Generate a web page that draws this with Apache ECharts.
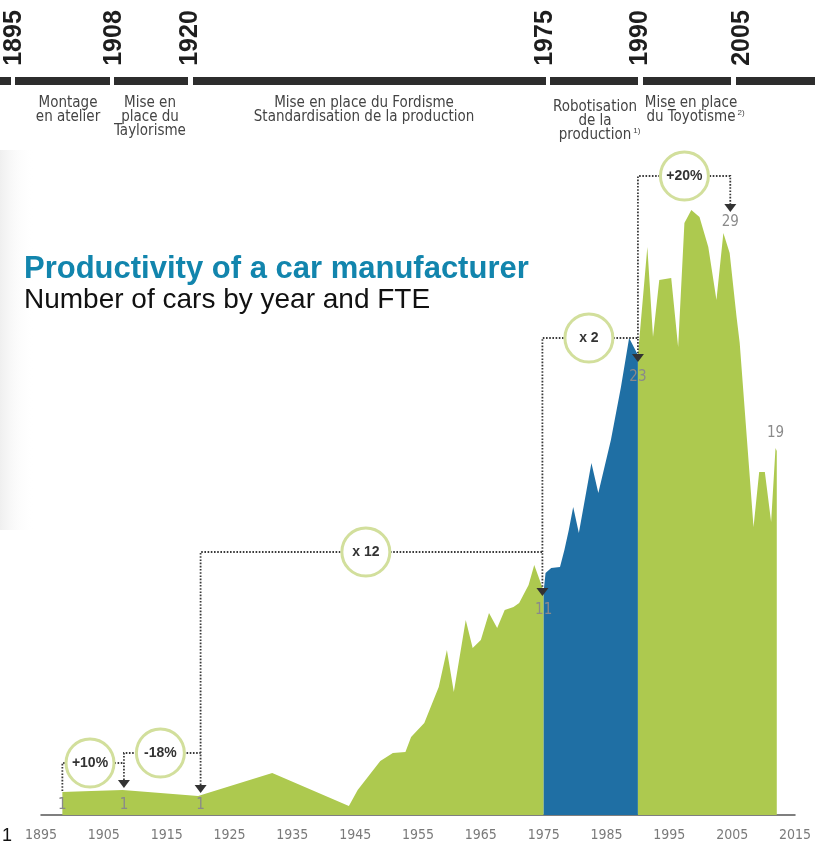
<!DOCTYPE html>
<html><head><meta charset="utf-8">
<script src="https://cdn.jsdelivr.net/npm/echarts@6/dist/echarts.min.js"></script>
<style>html,body{margin:0;padding:0;background:#fff}#c{width:815px;height:847px}</style>
</head><body><div id="c"></div>
<script>
// ---------- data ----------
const years = [1898.4,1903,1908,1914,1920,1931.8,1944,1945.4,1949,1951,1953,1953.9,1956,1958.3,1959.6,1960.7,1962.6,1963.7,1965,1966.3,1967.6,1968.8,1970.2,1971.1,1972.6,1973.5,1975,
  1975.3,1976.2,1977.6,1978.3,1979,1979.7,1980.6,1982.6,1983.7,1985.7,1987.3,1988.6,1990,
  1990.2,1991.5,1992.4,1993.4,1995.3,1996.4,1997.4,1998.5,1999.8,2001.2,2002.5,2003.6,2004.6,2005.7,2006.2,2008.4,2009.3,2010.2,2011.2,2011.9,2012.1];
const values = [1.15,1.2,1.25,1.1,0.95,2.1,0.45,1.25,2.7,3.1,3.15,3.9,4.6,6.4,8.25,6.15,9.75,8.35,8.75,10.1,9.35,10.25,10.4,10.6,11.5,12.5,11.2,
  12.1,12.35,12.4,13.25,14.25,15.4,14.1,17.6,16.1,18.75,21.4,23.85,23.0,
  23.7,28.4,23.9,26.75,26.85,23.4,29.6,30.25,29.9,28.4,25.75,29.1,28.1,24.9,23.6,14.4,17.15,17.15,14.65,18.35,18.2];
const eraBreaks = [1975, 1990];           // robotisation era drawn in blue
const axisMin = 1895, axisMax = 2015, axisStep = 10;

const timelineYears = ['1895','1908','1920','1975','1990','2005'];
const phaseLines = [
  ['Montage','en atelier'],
  ['Mise en','place du','Taylorisme'],
  ['Mise en place du Fordisme','Standardisation de la production'],
  ['Robotisation','de la','production'],
  ['Mise en place','du Toyotisme']
];
const phaseNotes = ['', '', '', '1)', '2)'];

// annotations (data coordinates: [year, value])
const connectors = [
  [[1898.4,1.2],[1898.4,2.6],[1908.2,2.6]],
  [[1908.2,1.75],[1908.2,3.1],[1920.4,3.1]],
  [[1920.4,1.5],[1920.4,13.15],[1974.8,13.15],[1974.8,11.35]],
  [[1974.8,13.15],[1974.8,23.85],[1990,23.85],[1990,23.05]],
  [[1990,23.85],[1990,31.95],[2004.7,31.95],[2004.7,30.55]]
];
const bubbleTexts = ['+10%','-18%','x 12','x 2','+20%'];
const bubbleAt = [[1902.8,2.6],[1914,3.1],[1946.7,13.15],[1982.2,23.85],[1997.4,31.95]];
const arrowTips = [[1908.2,1.35],[1920.4,1.1],[1974.8,10.95],[1990,22.65],[2004.7,30.15]];
const valueTexts = ['1','1','1','11','23','29','19'];
const valueAt = [[1898.4,0.5],[1908.2,0.5],[1920.4,0.5],[1975,10.25],[1990,21.9],[2004.7,29.65],[2011.9,19.1]];

// ---------- layout / style ----------
const GREEN = '#adc94f', BLUE = '#1f6fa4';
const NARROW = '"Liberation Sans Narrow","Arial Narrow","DejaVu Sans Condensed",sans-serif';
const SANS = '"Liberation Sans",Arial,sans-serif';
const yearLabelX = [14,114,190,545,640,742];
const phaseX = [68,150,364,595,691];
const phaseDY = [0,0,0,4,0];
const barSegs = [[0,11],[15,110],[114,188],[193,546],[550,638],[643,731],[736,815]];
const PHASE_FONT = '15px ' + NARROW;

const pts = years.map((y,i)=>[y, values[i]]);
const seg = (a,b)=>pts.filter(p=>p[0]>=a && p[0]<=b);
function area(name, data, color){
  return {name, type:'line', data, symbol:'none', showSymbol:false, silent:true,
    lineStyle:{width:0}, itemStyle:{color}, areaStyle:{color, opacity:1}, z:2};
}

const chart = echarts.init(document.getElementById('c'));
chart.setOption({
  animation:false,
  backgroundColor:'#ffffff',
  grid:{left:41, right:20, top:175, bottom:32},
  xAxis:{type:'value', min:axisMin, max:axisMax, interval:axisStep,
    axisLine:{lineStyle:{color:'#555', width:1.5}}, axisTick:{show:false}, splitLine:{show:false},
    axisLabel:{color:'#7a7a7a', fontFamily:NARROW, fontSize:14, margin:13, formatter:v=>String(v)}},
  yAxis:{type:'value', min:0, max:32, show:false, splitLine:{show:false}},
  series:[
    area('early', seg(-Infinity, eraBreaks[0]), GREEN),
    area('robot', seg(eraBreaks[0], eraBreaks[1]), BLUE),
    area('late', seg(eraBreaks[1], Infinity), GREEN)
  ]
});

const P = p => chart.convertToPixel({gridIndex:0}, p);
const ctx = document.createElement('canvas').getContext('2d');
const measure = (t, font) => { ctx.font = font; return ctx.measureText(t).width; };
const g = [];
const txt = (text, x, y, font, fill, align, z) => ({type:'text', z: z||5,
  style:{text, x, y, textAlign:align||'center', textVerticalAlign:'middle', align:align||'center', verticalAlign:'middle', font, fill}});

// soft grey left edge (scan look)
g.push({type:'rect', shape:{x:0,y:150,width:34,height:380}, silent:true, z:0,
  style:{fill:new echarts.graphic.LinearGradient(0,0,1,0,[{offset:0,color:'rgba(210,210,210,0.35)'},{offset:1,color:'rgba(255,255,255,0)'}])}});

// header timeline
barSegs.forEach(s=>g.push({type:'rect', shape:{x:s[0], y:77, width:s[1]-s[0], height:8}, style:{fill:'#2d2d2d'}, z:5}));
timelineYears.forEach((t,i)=>g.push({type:'text', x:yearLabelX[i], y:38, rotation:Math.PI/2, z:5,
  style:{text:t, x:0, y:0, textAlign:'center', textVerticalAlign:'middle', align:'center', verticalAlign:'middle',
    font:'bold 25px '+SANS, fill:'#1e1e1e'}}));
phaseLines.forEach((lines,i)=>{
  lines.forEach((ln,j)=>g.push(txt(ln, phaseX[i], 103+phaseDY[i]+j*14, PHASE_FONT, '#444')));
  if (phaseNotes[i]) {
    const last = lines[lines.length-1];
    const w = measure(last, PHASE_FONT);
    g.push(txt(phaseNotes[i], phaseX[i] + w/2 + 2, 103+phaseDY[i]+(lines.length-1)*14 - 4, '8px '+SANS, '#444', 'left'));
  }
});

// title
g.push(txt('Productivity of a car manufacturer', 24, 269, 'bold 31px '+SANS, '#1285ad', 'left'));
g.push(txt('Number of cars by year and FTE', 24, 300, '28px '+SANS, '#111', 'left'));
// page number
g.push(txt('1', 7, 836, '18px '+SANS, '#111'));

// connectors
connectors.forEach(c=>g.push({type:'polyline', z:6, shape:{points:c.map(P)},
  style:{stroke:'#3a3a3a', lineWidth:1.8, lineDash:[1.6,1.6], fill:null}}));
// arrows
arrowTips.forEach(a=>{const p=P(a); g.push({type:'polygon', z:7,
  shape:{points:[[p[0]-6,p[1]-8],[p[0]+6,p[1]-8],[p[0],p[1]]]}, style:{fill:'#333'}});});
// bubbles
bubbleTexts.forEach((t,i)=>{const p=P(bubbleAt[i]);
  g.push({type:'circle', z:8, shape:{cx:p[0], cy:p[1], r:24}, style:{fill:'#fff', stroke:'#d2df9c', lineWidth:3}});
  g.push(txt(t, p[0], p[1], 'bold 14px '+SANS, '#333', 'center', 9));
});
// value labels
valueTexts.forEach((t,i)=>{const p=P(valueAt[i]);
  g.push(txt(t, p[0], p[1], '15px '+NARROW, '#8a8a8a', 'center', 9));
});

chart.setOption({graphic:{elements:g}});
</script></body></html>
